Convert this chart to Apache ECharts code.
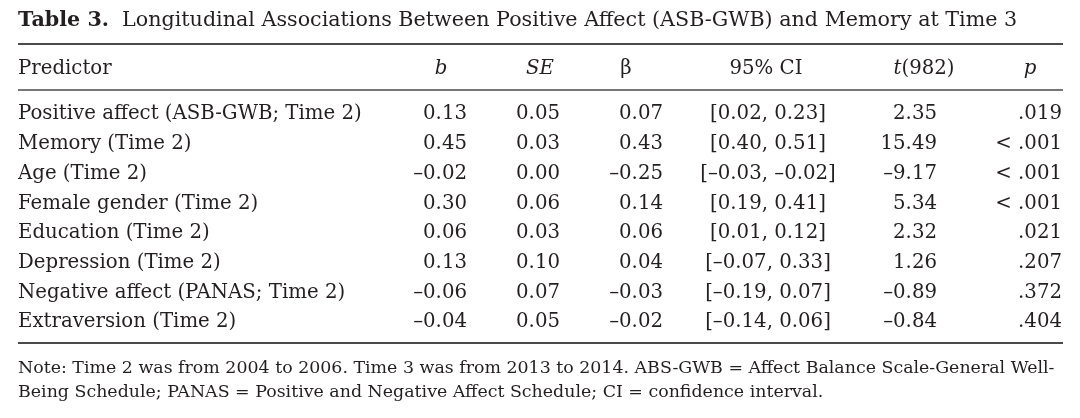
<!DOCTYPE html>
<html><head><meta charset="utf-8">
<script src="https://cdn.jsdelivr.net/npm/echarts@6/dist/echarts.min.js"></script>
<style>html,body{margin:0;padding:0;background:#fff}#c{width:1080px;height:418px}</style>
</head><body><div id="c"></div>
<script>
// ---------------- data ----------------
const titleLabel = 'Table 3.';
const titleText = 'Longitudinal Associations Between Positive Affect (ASB-GWB) and Memory at Time 3';
const headerLabels = ['Predictor', 'b', 'SE', 'β', '95% CI', 't(982)', 'p'];
const predictors = [
  'Positive affect (ASB-GWB; Time 2)',
  'Memory (Time 2)',
  'Age (Time 2)',
  'Female gender (Time 2)',
  'Education (Time 2)',
  'Depression (Time 2)',
  'Negative affect (PANAS; Time 2)',
  'Extraversion (Time 2)'
];
const bVals    = [0.13, 0.45, -0.02, 0.30, 0.06, 0.13, -0.06, -0.04];
const seVals   = [0.05, 0.03, 0.00, 0.06, 0.03, 0.10, 0.07, 0.05];
const betaVals = [0.07, 0.43, -0.25, 0.14, 0.06, 0.04, -0.03, -0.02];
const ciLow    = [0.02, 0.40, -0.03, 0.19, 0.01, -0.07, -0.19, -0.14];
const ciHigh   = [0.23, 0.51, -0.02, 0.41, 0.12, 0.33, 0.07, 0.06];
const tVals    = [2.35, 15.49, -9.17, 5.34, 2.32, 1.26, -0.89, -0.84];
const pVals    = ['.019', '< .001', '< .001', '< .001', '.021', '.207', '.372', '.404'];
const noteLines = [
  'Note: Time 2 was from 2004 to 2006. Time 3 was from 2013 to 2014. ABS-GWB = Affect Balance Scale-General Well-',
  'Being Schedule; PANAS = Positive and Negative Affect Schedule; CI = confidence interval.'
];

// ---------------- style / layout ----------------
const FONT = '"DejaVu Serif", "Liberation Serif", serif';
const INK = '#231f20';
const RULE = '#4a4a4a';
const ctx = document.createElement('canvas').getContext('2d');
function fitSize(text, weight, target, base) {
  ctx.font = weight + ' ' + base + 'px ' + FONT;
  return base * target / ctx.measureText(text).width;
}
const bodySize = fitSize(predictors[0], 'normal', 344, 20);
const titleSize = fitSize(titleText, 'normal', 896, 20);
const noteSize = fitSize(noteLines[0], 'normal', 1037, 20);

const fmt = v => v.toFixed(2).replace('-', '\u2013');
const italic = s => '{i|' + s + '}';

// column anchors (axis units == pixels) and alignment
const cols = [
  { x: 18,   align: 'left',   hx: 18,   hAlign: 'left'   },
  { x: 467,  align: 'right',  hx: 441,  hAlign: 'center' },
  { x: 560,  align: 'right',  hx: 540,  hAlign: 'center' },
  { x: 663,  align: 'right',  hx: 626,  hAlign: 'center' },
  { x: 768,  align: 'center', hx: 766,  hAlign: 'center' },
  { x: 937,  align: 'right',  hx: 924,  hAlign: 'center' },
  { x: 1062, align: 'right',  hx: 1030, hAlign: 'center' }
];
const headerText = [
  headerLabels[0], italic(headerLabels[1]), italic(headerLabels[2]), headerLabels[3],
  headerLabels[4], italic(headerLabels[5].slice(0, 1)) + headerLabels[5].slice(1), italic(headerLabels[6])
];
function cellTexts(i) {
  return [
    predictors[i], fmt(bVals[i]), fmt(seVals[i]), fmt(betaVals[i]),
    '[' + fmt(ciLow[i]) + ', ' + fmt(ciHigh[i]) + ']', fmt(tVals[i]), pVals[i]
  ];
}
function textEl(x, y, text, align, size) {
  return {
    type: 'text',
    style: {
      x: x, y: y, text: text, fill: INK,
      fontFamily: FONT, fontSize: size,
      align: align, textAlign: align,
      verticalAlign: 'middle', textVerticalAlign: 'middle',
      rich: { i: { fontStyle: 'italic', fontFamily: FONT, fontSize: size, fill: INK } }
    }
  };
}

const chart = echarts.init(document.getElementById('c'), null, { renderer: 'canvas' });
chart.setOption({
  animation: false,
  backgroundColor: '#ffffff',
  grid: [
    { left: 0, right: 0, top: 99.5, height: 237.6 },
    { left: 0, right: 0, top: 55, height: 28.6 }
  ],
  xAxis: [
    { type: 'value', min: 0, max: 1080, show: false, gridIndex: 0 },
    { type: 'value', min: 0, max: 1080, show: false, gridIndex: 1 }
  ],
  yAxis: [
    { type: 'category', data: predictors, inverse: true, show: false, gridIndex: 0 },
    { type: 'category', data: ['header'], show: false, gridIndex: 1 }
  ],
  series: [
    {
      type: 'custom', xAxisIndex: 0, yAxisIndex: 0,
      data: predictors.map((p, i) => [0, i]),
      renderItem: function (params, api) {
        const i = api.value(1);
        const texts = cellTexts(i);
        return {
          type: 'group',
          children: cols.map((c, k) => {
            const pt = api.coord([c.x, i]);
            return textEl(pt[0], pt[1], texts[k], c.align, bodySize);
          })
        };
      }
    },
    {
      type: 'custom', xAxisIndex: 1, yAxisIndex: 1,
      data: [[0, 0]],
      renderItem: function (params, api) {
        return {
          type: 'group',
          children: cols.map((c, k) => {
            const pt = api.coord([c.hx, 0]);
            return textEl(pt[0], pt[1], headerText[k], c.hAlign, bodySize);
          })
        };
      }
    }
  ],
  graphic: [
    { type: 'text', left: 18, top: 10,
      style: { text: titleLabel, fill: INK, font: 'bold ' + titleSize.toFixed(2) + 'px ' + FONT } },
    { type: 'text', left: 122, top: 10,
      style: { text: titleText, fill: INK, font: titleSize.toFixed(2) + 'px ' + FONT } },
    { type: 'line', shape: { x1: 18, y1: 44, x2: 1063, y2: 44 }, style: { stroke: RULE, lineWidth: 2 } },
    { type: 'line', shape: { x1: 18, y1: 90, x2: 1063, y2: 90 }, style: { stroke: RULE, lineWidth: 1.5 } },
    { type: 'line', shape: { x1: 18, y1: 343, x2: 1063, y2: 343 }, style: { stroke: RULE, lineWidth: 2 } },
    { type: 'text', left: 18, top: 360,
      style: { text: noteLines[0], fill: INK, font: noteSize.toFixed(2) + 'px ' + FONT } },
    { type: 'text', left: 18, top: 384,
      style: { text: noteLines[1], fill: INK, font: noteSize.toFixed(2) + 'px ' + FONT } }
  ]
});
</script>
</body></html>
